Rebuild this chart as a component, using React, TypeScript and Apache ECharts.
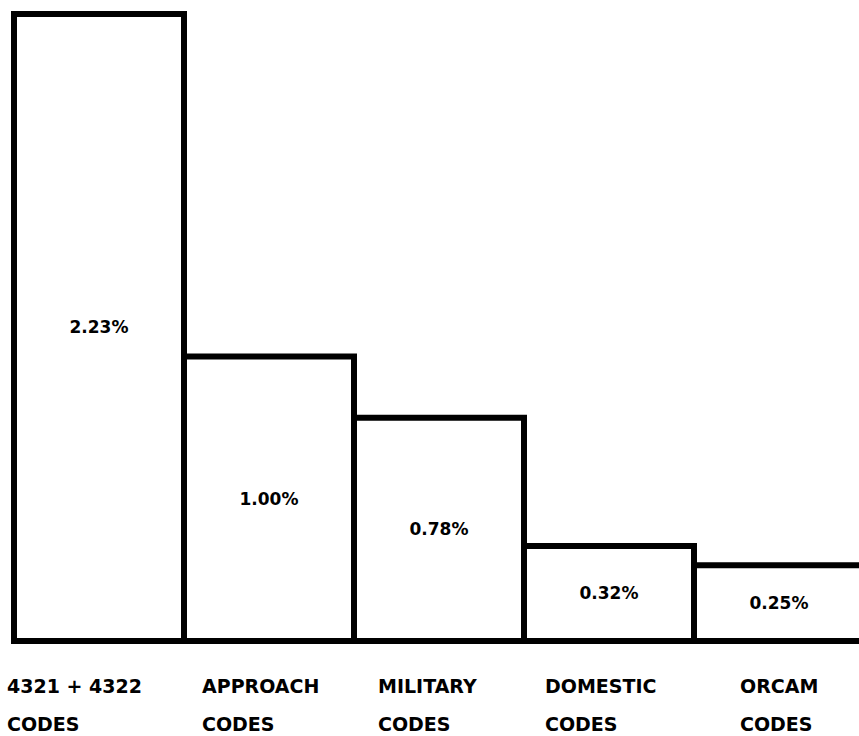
import React, { useEffect, useRef } from "react";
import * as echarts from "echarts";

const categories = [
  "4321 + 4322\nCODES",
  "APPROACH\nCODES",
  "MILITARY\nCODES",
  "DOMESTIC\nCODES",
  "ORCAM\nCODES",
];
const values = [2.23, 1.0, 0.78, 0.32, 0.25];

// layout-only: distance from each category centre back to the left edge of its label block
const labelIndent = [92, 67, 61, 64, 39];

const FONT = "DejaVu Sans";
const STROKE = 6;

export default function App() {
  const ref = useRef<HTMLDivElement>(null);
  useEffect(() => {
    if (!ref.current) return;
    const chart = echarts.init(ref.current, null, { renderer: "svg" });
    const rich: Record<string, any> = {};
    labelIndent.forEach((w, i) => {
      rich["t" + i] = {
        width: w,
        align: "left",
        lineHeight: 38,
        fontFamily: FONT,
        fontWeight: "bold",
        fontSize: 19,
        color: "#000",
      };
    });
    chart.setOption({
      animation: false,
      backgroundColor: "#fff",
      grid: {
        left: 14,
        top: 3,
        width: 850,
        bottom: 98,
        outerBoundsMode: "none",
        containLabel: false,
      },
      xAxis: {
        type: "category",
        data: categories,
        axisLine: { show: false },
        axisTick: { show: false },
        splitLine: { show: false },
        axisLabel: {
          interval: 0,
          margin: 29,
          align: "right",
          fontFamily: FONT,
          fontWeight: "bold",
          fontSize: 19,
          color: "#000",
          formatter: (value: string, index: number) =>
            value
              .split("\n")
              .map((l) => `{t${index}|${l}}`)
              .join("\n"),
          rich,
        },
      },
      yAxis: { type: "value", min: 0, max: 2.28, show: false },
      series: [
        {
          type: "custom",
          data: values.map((v, i) => [i, v]),
          clip: false,
          renderItem: (params: any, api: any) => {
            const i = api.value(0);
            const v = api.value(1);
            const top = api.coord([i, v]);
            const base = api.coord([i, 0]);
            const bw = api.size([1, 0])[0];
            const h = STROKE / 2;
            return {
              type: "group",
              children: [
                {
                  type: "rect",
                  shape: {
                    x: top[0] - bw / 2,
                    y: top[1] - h,
                    width: bw,
                    height: base[1] - top[1] + 2 * h,
                  },
                  style: {
                    fill: "#fff",
                    stroke: "#000",
                    lineWidth: STROKE,
                    lineJoin: "miter",
                  },
                },
                {
                  type: "text",
                  style: {
                    text: Number(v).toFixed(2) + "%",
                    x: top[0],
                    y: (top[1] + base[1]) / 2,
                    align: "center",
                    verticalAlign: "middle",
                    fontFamily: FONT,
                    fontWeight: "bold",
                    fontSize: 17,
                    fill: "#000",
                  },
                },
              ],
            };
          },
        },
      ],
    });
    return () => chart.dispose();
  }, []);
  return (
    <div
      ref={ref}
      style={{ position: "fixed", left: 0, top: 0, width: 859, height: 736 }}
    />
  );
}
